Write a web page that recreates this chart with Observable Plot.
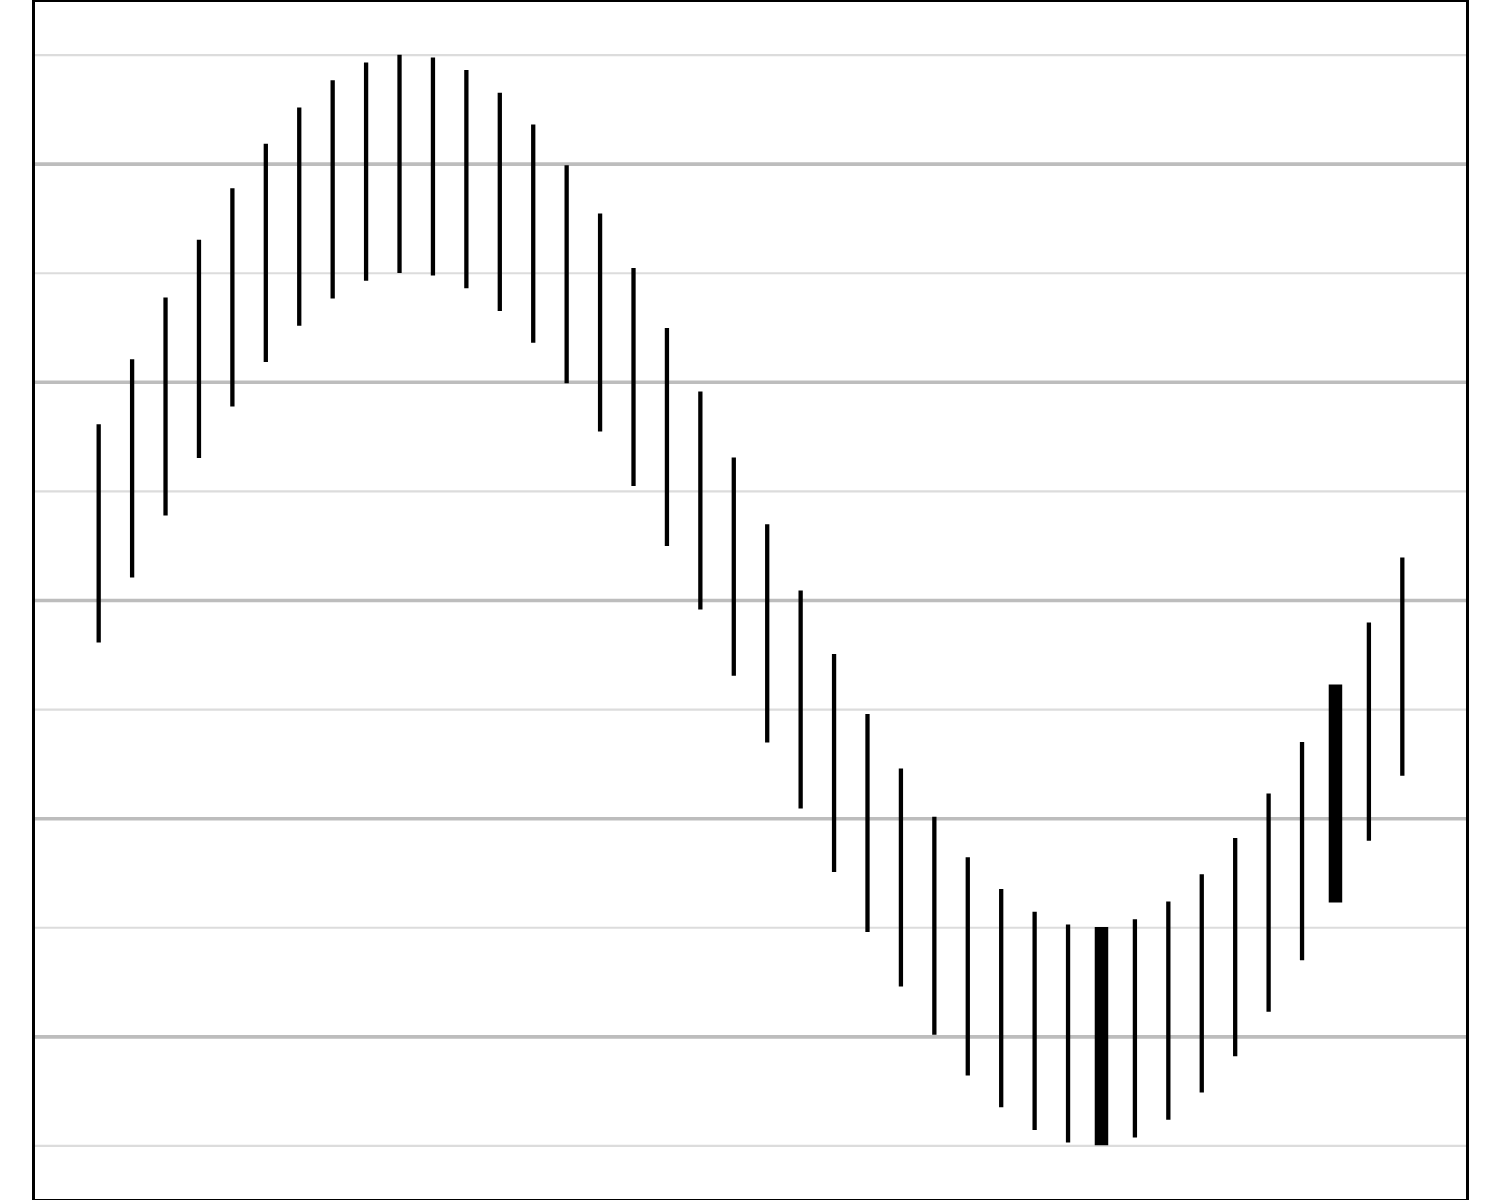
<!DOCTYPE html>
<html>
<head>
<meta charset="utf-8">
<script src="https://cdn.jsdelivr.net/npm/d3@7"></script>
<script src="https://cdn.jsdelivr.net/npm/@observablehq/plot@0.6"></script>
<style>
  html, body { margin: 0; padding: 0; background: #ffffff; }
  #chart svg { display: block; }
</style>
</head>
<body>
<div id="chart"></div>
<script>
// Segment positions (index along x)
const xs = [1, 2, 3, 4, 5, 6, 7, 8, 9, 10,
            11, 12, 13, 14, 15, 16, 17, 18, 19, 20,
            21, 22, 23, 24, 25, 26, 27, 28, 29, 30,
            31, 32, 33, 34, 35, 36, 37, 38, 39, 40];
// Segment mid values
const mids = [0.305, 0.603, 0.887, 1.151, 1.387, 1.591, 1.757, 1.882, 1.963, 1.999,
              1.987, 1.929, 1.825, 1.679, 1.493, 1.272, 1.022, 0.747, 0.456, 0.153,
              -0.153, -0.456, -0.747, -1.022, -1.272, -1.493, -1.679, -1.825, -1.929, -1.987,
              -1.999, -1.963, -1.882, -1.757, -1.591, -1.387, -1.151, -0.887, -0.603, -0.305];
// Half-length of every segment
const halfSpan = 0.5;
// Segments drawn emphasised
const emphasised = [31, 38];
// Gridline values
const majorTicks = [-2, -1, 0, 1, 2];
const minorTicks = [-2.5, -1.5, -0.5, 0.5, 1.5, 2.5];

const data = xs.map((x, i) => ({x, lo: mids[i] - halfSpan, hi: mids[i] + halfSpan, emph: emphasised.includes(x)}));

const xPad = (xs[xs.length - 1] - xs[0]) * 0.05;
const yPad = (2.5 - (-2.5)) * 0.05;

const chart = Plot.plot({
  width: 1500,
  height: 1200,
  marginLeft: 33,
  marginRight: 33,
  marginTop: 0,
  marginBottom: 0,
  x: {domain: [xs[0] - xPad, xs[xs.length - 1] + xPad], axis: null},
  y: {domain: [-2.5 - yPad, 2.5 + yPad], axis: null},
  marks: [
    Plot.ruleY(minorTicks, {stroke: "#dcdcdc", strokeWidth: 2.2}),
    Plot.ruleY(majorTicks, {stroke: "#bdbdbd", strokeWidth: 3.6}),
    Plot.ruleX(data.filter(d => !d.emph), {x: "x", y1: "lo", y2: "hi", stroke: "black", strokeWidth: 4.3}),
    Plot.ruleX(data.filter(d => d.emph), {x: "x", y1: "lo", y2: "hi", stroke: "black", strokeWidth: 13.5}),
    Plot.frame({stroke: "black", strokeWidth: 3})
  ]
});
document.getElementById("chart").appendChild(chart);
</script>
</body>
</html>
